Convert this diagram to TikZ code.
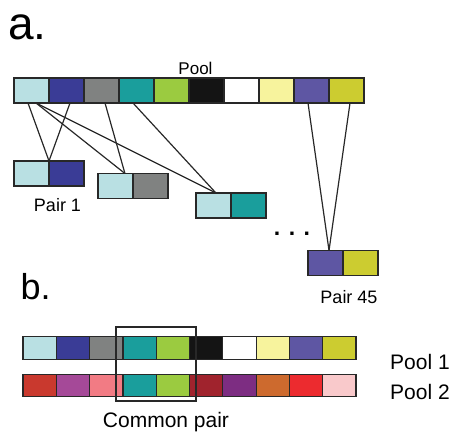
\documentclass[tikz,border=0pt]{standalone}
\usepackage{fontspec}
\setmainfont{Liberation Sans}
\usetikzlibrary{positioning, calc}
\definecolor{cIce}{RGB}{185,224,227}
\definecolor{cNavy}{RGB}{58,60,150}
\definecolor{cGray}{RGB}{128,130,129}
\definecolor{cTeal}{RGB}{26,158,156}
\definecolor{cLime}{RGB}{155,203,64}
\definecolor{cInk}{RGB}{20,20,20}
\definecolor{cCream}{RGB}{247,243,157}
\definecolor{cViolet}{RGB}{94,86,163}
\definecolor{cOlive}{RGB}{204,204,48}
\definecolor{cBrick}{RGB}{201,57,46}
\definecolor{cMagenta}{RGB}{165,73,152}
\definecolor{cSalmon}{RGB}{242,123,132}
\definecolor{cWine}{RGB}{160,35,45}
\definecolor{cPlum}{RGB}{125,45,130}
\definecolor{cRust}{RGB}{205,106,46}
\definecolor{cScarlet}{RGB}{236,43,47}
\definecolor{cBlush}{RGB}{249,201,203}
\definecolor{cEdge}{RGB}{40,40,40}

\begin{document}
\begin{tikzpicture}[
  x=1pt, y=-1pt,
  cell/.style={draw=cEdge, line width=1.2pt, inner sep=0pt, outer sep=0pt,
               minimum width=35pt, minimum height=25pt},
  bcell/.style={cell, minimum width=33.3pt, minimum height=22.5pt},
  link/.style={line width=1.2pt, cEdge},
  lbl/.style={font=\fontsize{18}{20}\selectfont, inner sep=0pt, anchor=base},
  big/.style={font=\fontsize{21}{24}\selectfont, inner sep=0pt, anchor=base west},
  panel/.style={inner sep=0pt, anchor=base west}
]
\useasboundingbox (0,0) rectangle (455,431);

%% ── PANEL A: POOL ────────────────────────────────────────────────────────────

\node[panel, font=\fontsize{46}{50}\selectfont] (tagA) at (8,39) {a.};

\foreach \c [count=\i] in {cIce,cNavy,cGray,cTeal,cLime,cInk,white,cCream,cViolet,cOlive}
  \node[cell, fill=\c] (pool-\i) at ({31.5+35*(\i-1)}, 90.5) {};

\node[lbl, font=\fontsize{17}{20}\selectfont] (poolLbl) at (195.5,74) {Pool};

%% ── PANEL A: PAIRS ───────────────────────────────────────────────────────────

\node[cell, fill=cIce] (p1a) at (31.5,173.5) {};
\node[cell, fill=cNavy, right=0pt of p1a] (p1b) {};
\node[lbl] (p1Lbl) at (57.5,211) {Pair 1};

\node[cell, fill=cIce] (p2a) at (115.5,186) {};
\node[cell, fill=cGray, right=0pt of p2a] (p2b) {};

\node[cell, fill=cIce] (p3a) at (213.5,205.5) {};
\node[cell, fill=cTeal, right=0pt of p3a] (p3b) {};

\node[lbl, font=\fontsize{23}{24}\bfseries\selectfont] (dots) at (292,235) {. . .};

\node[cell, fill=cViolet] (p45a) at (325.5,263) {};
\node[cell, fill=cOlive, right=0pt of p45a] (p45b) {};
\node[lbl] (p45Lbl) at (349,303) {Pair 45};

%% ── PANEL A: LINKS ───────────────────────────────────────────────────────────

\coordinate (t2) at ($(p2a.north west)!0.77!(p2a.north east)$);
\coordinate (t3) at ($(p3a.north west)!0.57!(p3a.north east)$);
\coordinate (t45) at ($(p45a.north west)!0.6!(p45a.north east)$);

\draw[link] ($(pool-1.south west)!0.4!(pool-1.south east)$) -- (p1a.north east);
\draw[link] ($(pool-2.south west)!0.6!(pool-2.south east)$) -- (p1a.north east);
\draw[link] ($(pool-1.south west)!0.63!(pool-1.south east)$) -- (t2);
\draw[link] ($(pool-3.south west)!0.6!(pool-3.south east)$) -- (t2);
\draw[link] ($(pool-1.south west)!0.63!(pool-1.south east)$) -- (t3);
\draw[link] ($(pool-4.south west)!0.4!(pool-4.south east)$) -- (t3);
\draw[link] ($(pool-9.south west)!0.4!(pool-9.south east)$) -- (t45);
\draw[link] ($(pool-10.south west)!0.6!(pool-10.south east)$) -- (t45);

%% ── PANEL B: TWO POOLS ───────────────────────────────────────────────────────

\node[panel, font=\fontsize{36}{40}\selectfont] (tagB) at (20.5,299) {b.};

\foreach \c [count=\i] in {cIce,cNavy,cGray,cTeal,cLime,cInk,white,cCream,cViolet,cOlive}
  \node[bcell, fill=\c] (one-\i) at ({39.65+33.3*(\i-1)}, 348) {};

\foreach \c [count=\i] in {cBrick,cMagenta,cSalmon,cTeal,cLime,cWine,cPlum,cRust,cScarlet,cBlush}
  \node[bcell, fill=\c] (two-\i) at ({39.65+33.3*(\i-1)}, 385.5) {};

\node[big] (one) at (390,369) {Pool 1};
\node[big] (two) at (390,399) {Pool 2};

%% ── PANEL B: COMMON PAIR ─────────────────────────────────────────────────────

\node[draw=cEdge, line width=1.2pt, inner sep=0pt, minimum width=80pt,
      minimum height=74pt] (common) at (156,364) {};
\node[big, anchor=base] (commonLbl) at (166,427) {Common pair};

\end{tikzpicture}
\end{document}
